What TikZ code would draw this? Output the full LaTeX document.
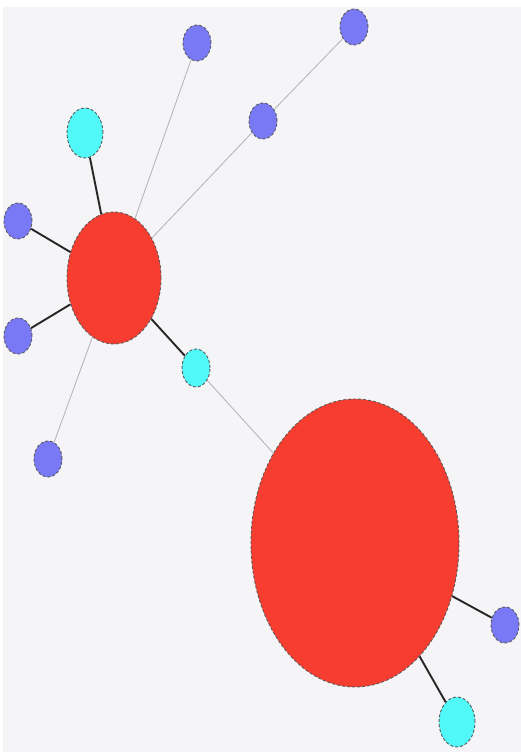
\documentclass[tikz,border=0pt]{standalone}
\usetikzlibrary{shapes.geometric}
\definecolor{hubred}{HTML}{F73D30}
\definecolor{leafblue}{HTML}{7979F5}
\definecolor{leafcyan}{HTML}{50F8F8}
\definecolor{bgc}{HTML}{F5F5F8}
\begin{document}
\begin{tikzpicture}[x=1pt,y=-1pt,
  nd/.style={ellipse,draw=black!65,line width=0.9pt,densely dashed,inner sep=0pt},
  bluend/.style={nd,fill=leafblue,minimum width=28pt,minimum height=36pt},
  cyannd/.style={nd,fill=leafcyan},
  strong/.style={draw=black!85,line width=1.9pt},
  weak/.style={draw=black!30,line width=0.8pt}]
\useasboundingbox (0,0) rectangle (521,752);
\fill[white] (0,0) rectangle (521,752);
\fill[bgc] (3,7) rectangle (521,752);
\node[nd,fill=hubred,minimum width=208pt,minimum height=288pt] (A) at (355,543) {};
\node[nd,fill=hubred,minimum width=94pt,minimum height=132pt] (B) at (114,278) {};
\node[cyannd,minimum width=36pt,minimum height=50pt] (c1) at (85,133) {};
\node[cyannd,minimum width=28pt,minimum height=38pt] (c2) at (196,368) {};
\node[cyannd,minimum width=36pt,minimum height=50pt] (c3) at (457,722) {};
\node[bluend] (b1) at (197,43) {};
\node[bluend] (b2) at (354,27) {};
\node[bluend] (b3) at (263,121) {};
\node[bluend] (b4) at (18,221) {};
\node[bluend] (b5) at (18,336) {};
\node[bluend] (b6) at (48,459) {};
\node[bluend] (b7) at (505,625) {};
\draw[strong] (B) -- (c1);
\draw[strong] (B) -- (b4);
\draw[strong] (B) -- (b5);
\draw[strong] (B) -- (c2);
\draw[weak] (B) -- (b1);
\draw[weak] (B) -- (b3);
\draw[weak] (b3) -- (b2);
\draw[weak] (B) -- (b6);
\draw[weak] (c2) -- (A);
\draw[strong] (A) -- (b7);
\draw[strong] (A) -- (c3);
\end{tikzpicture}
\end{document}
